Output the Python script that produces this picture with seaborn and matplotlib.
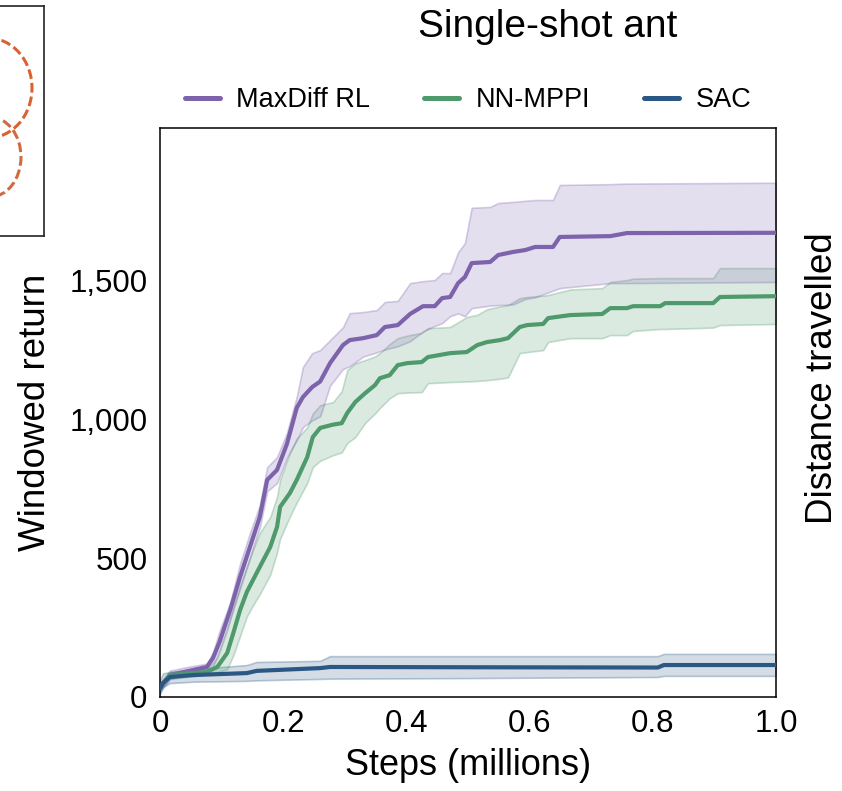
import matplotlib
matplotlib.use("Agg")
import matplotlib.pyplot as plt
from matplotlib.lines import Line2D
from matplotlib.patches import Ellipse
from matplotlib.colors import to_rgba
import seaborn as sns
import pandas as pd
import numpy as np

sns.set_style("white")
plt.rcParams['font.family'] = ['Liberation Sans', 'DejaVu Sans']
plt.rcParams['text.color'] = 'black'
plt.rcParams['axes.labelcolor'] = 'black'
plt.rcParams['xtick.color'] = 'black'
plt.rcParams['ytick.color'] = 'black'

# --- Data (steps in millions, windowed return) ---
maxdiff_x = [0.000, 0.016, 0.049, 0.076, 0.086, 0.097, 0.114, 0.130, 0.146, 0.162,
             0.174, 0.190, 0.206, 0.222, 0.232, 0.247, 0.260, 0.276, 0.297, 0.308,
             0.330, 0.352, 0.365, 0.386, 0.406, 0.427, 0.446, 0.458, 0.471, 0.484,
             0.495, 0.506, 0.536, 0.549, 0.573, 0.593, 0.609, 0.638, 0.649, 0.731,
             0.758, 1.000]
maxdiff_mean = [35, 79, 95, 108, 140, 200, 313, 432, 540, 648,
                781, 817, 910, 1040, 1079, 1115, 1135, 1201, 1266, 1284,
                1291, 1302, 1331, 1338, 1378, 1406, 1406, 1435, 1439, 1489,
                1511, 1561, 1565, 1590, 1601, 1608, 1619, 1619, 1655, 1658,
                1669, 1670]
maxdiff_lo = [20, 65, 80, 95, 108, 170, 280, 390, 500, 610,
              740, 770, 860, 924, 971, 995, 1010, 1120, 1180, 1190,
              1225, 1240, 1250, 1262, 1280, 1315, 1335, 1345, 1370, 1380,
              1370, 1399, 1408, 1410, 1412, 1432, 1438, 1462, 1471, 1489,
              1489, 1493]
maxdiff_hi = [45, 95, 110, 120, 160, 240, 340, 480, 590, 690,
              827, 863, 950, 1080, 1187, 1237, 1248, 1284, 1330, 1381,
              1385, 1392, 1421, 1425, 1489, 1496, 1500, 1525, 1525, 1600,
              1633, 1760, 1763, 1777, 1781, 1785, 1788, 1788, 1842, 1845,
              1847, 1850]

nnmppi_x = [0.000, 0.016, 0.076, 0.093, 0.109, 0.119, 0.130, 0.141, 0.151, 0.162,
            0.179, 0.190, 0.195, 0.211, 0.222, 0.239, 0.248, 0.260, 0.281, 0.295,
            0.304, 0.317, 0.333, 0.349, 0.357, 0.373, 0.386, 0.401, 0.425, 0.435,
            0.471, 0.498, 0.515, 0.531, 0.552, 0.565, 0.584, 0.596, 0.622, 0.630,
            0.666, 0.718, 0.731, 0.758, 0.768, 0.812, 0.820, 0.898, 0.909, 1.000]
nnmppi_mean = [35, 79, 90, 108, 158, 230, 313, 378, 421, 468,
               540, 612, 684, 734, 781, 863, 935, 968, 980, 985,
               1022, 1061, 1093, 1122, 1147, 1158, 1194, 1201, 1205, 1223,
               1237, 1241, 1266, 1277, 1284, 1291, 1331, 1338, 1342, 1363,
               1374, 1378, 1399, 1399, 1406, 1406, 1417, 1417, 1439, 1442]
nnmppi_lo = [20, 65, 80, 90, 100, 150, 220, 290, 330, 370,
             440, 520, 570, 650, 700, 770, 827, 850, 870, 880,
             914, 935, 986, 1020, 1040, 1075, 1093, 1095, 1097, 1129,
             1133, 1135, 1137, 1140, 1145, 1150, 1237, 1241, 1248, 1277,
             1291, 1291, 1302, 1302, 1317, 1324, 1324, 1329, 1338, 1342]
nnmppi_hi = [50, 90, 100, 140, 240, 324, 400, 468, 530, 590,
             648, 720, 781, 880, 930, 970, 1020, 1050, 1061, 1100,
             1176, 1200, 1212, 1225, 1237, 1270, 1291, 1300, 1310, 1327,
             1331, 1367, 1375, 1395, 1405, 1410, 1435, 1439, 1444, 1446,
             1466, 1471, 1493, 1500, 1505, 1507, 1507, 1507, 1543, 1543]

sac_x = [0.000, 0.005, 0.016, 0.054, 0.141, 0.157, 0.260, 0.276, 0.500, 0.808, 0.818, 1.000]
sac_mean = [30, 50, 72, 79, 86, 94, 104, 108, 107, 106, 115, 115]
sac_lo = [10, 36, 50, 55, 58, 60, 65, 66, 68, 72, 76, 76]
sac_hi = [60, 85, 90, 100, 115, 126, 130, 147, 147, 147, 155, 155]

methods = ['MaxDiff RL', 'NN-MPPI', 'SAC']
colors = {'MaxDiff RL': '#7c63ab', 'NN-MPPI': '#4f9a6c', 'SAC': '#2b5785'}

y_ticks = [0, 500, 1000, 1500]
y_ticklabels = ['0', '500', '1,000', '1,500']
x_ticks = [0, 0.2, 0.4, 0.6, 0.8, 1.0]
x_ticklabels = ['0', '0.2', '0.4', '0.6', '0.8', '1.0']

# neighbouring panel (cut off at the left): trajectory loops, in pixel-like units
loop_centres = [(-12, 88), (-10, 157)]
loop_sizes = [(88, 100), (62, 80)]
loop_colors = ['#da6232', '#d26a40']

series = {
    'MaxDiff RL': (maxdiff_x, maxdiff_mean, maxdiff_lo, maxdiff_hi),
    'NN-MPPI': (nnmppi_x, nnmppi_mean, nnmppi_lo, nnmppi_hi),
    'SAC': (sac_x, sac_mean, sac_lo, sac_hi),
}

df = pd.concat([pd.DataFrame({'steps': v[0], 'ret': v[1], 'method': k})
                for k, v in series.items()], ignore_index=True)

W, H = 842, 791
fig = plt.figure(figsize=(W / 100, H / 100), dpi=100)
ax = fig.add_axes([160 / W, 94 / H, 616 / W, 569 / H])

# bands first, then mean lines
for m in ['SAC', 'NN-MPPI', 'MaxDiff RL']:
    x, mean, lo, hi = series[m]
    ax.fill_between(x, lo, hi, facecolor=to_rgba(colors[m], 0.2),
                    edgecolor=to_rgba(colors[m], 0.3), linewidth=1.2, zorder=1)

sns.lineplot(data=df, x='steps', y='ret', hue='method', hue_order=methods,
             palette=colors, estimator=None, sort=False, linewidth=3,
             legend=False, ax=ax, zorder=3)

ax.set_xlim(0, 1.0)
ax.set_ylim(0, 2047)
ax.set_xticks(x_ticks)
ax.set_xticklabels(x_ticklabels)
ax.set_yticks(y_ticks)
ax.set_yticklabels(y_ticklabels)
ax.tick_params(direction='in', length=7, width=1.1, labelsize=22.5, pad=9,
               colors='black')
for s in ax.spines.values():
    s.set_visible(True)
    s.set_color('black')
    s.set_linewidth(1.1)
ax.set_xlabel('Steps (millions)', fontsize=26, labelpad=6)
ax.set_ylabel('Windowed return', fontsize=26.5, labelpad=12)

handles = [Line2D([0], [0], color=colors[m], lw=3.6) for m in methods]
ax.legend(handles, methods, loc='center', bbox_to_anchor=(0.5, 1.049),
          ncol=3, frameon=False, fontsize=19.5, handlelength=1.3,
          handletextpad=0.6, columnspacing=2.0)

fig.text(548 / W, 1 - 27 / H, 'Single-shot ant', fontsize=28,
         ha='center', va='center')
fig.text(822 / W, 1 - 378 / H, 'Distance travelled', fontsize=26.5,
         rotation=90, ha='center', va='center')

# cut-off neighbouring panel on the left
axl = fig.add_axes([-250 / W, 1 - 236 / H, 294 / W, 230 / H])
axl.set_xlim(-250, 44)
axl.set_ylim(236, 6)
axl.set_xticks([])
axl.set_yticks([])
for s in axl.spines.values():
    s.set_color('#222222')
    s.set_linewidth(1.2)
for c, sz, col in zip(loop_centres, loop_sizes, loop_colors):
    axl.add_patch(Ellipse(c, sz[0], sz[1], fill=False, edgecolor=col,
                          linewidth=2.2, linestyle=(0, (3.2, 1.3))))

fig.savefig('out.png', dpi=100)
